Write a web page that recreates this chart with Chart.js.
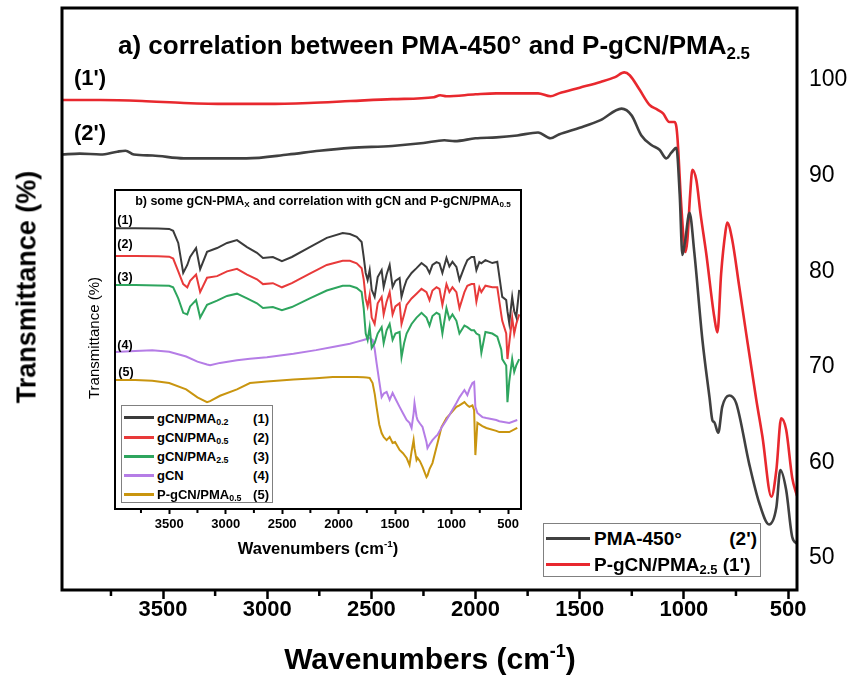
<!DOCTYPE html>
<html>
<head>
<meta charset="utf-8">
<script src="https://cdn.jsdelivr.net/npm/chart.js@4.4.1/dist/chart.umd.min.js"></script>
<style>
  html, body { margin: 0; padding: 0; background: #fff; }
  #wrap { position: relative; width: 852px; height: 680px; overflow: hidden; background: #fff; }
  canvas { position: absolute; left: 0; top: 0; }
  .t { position: absolute; white-space: nowrap; font-family: "Liberation Sans", Arial, sans-serif; font-weight: bold; color: #000; line-height: 1; transform: translate(-50%, -50%); }
  .t sub { font-size: 0.65em; vertical-align: -0.3em; line-height: 0; }
  .t sup { font-size: 0.6em; vertical-align: 0.65em; line-height: 0; }
  .box { position: absolute; background: #fff; border: 1px solid #808080; box-sizing: border-box; font-family: "Liberation Sans", Arial, sans-serif; font-weight: bold; }
  .sw { position: absolute; height: 3px; }
  .lt { position: absolute; white-space: nowrap; line-height: 1; transform: translateY(-50%); }
  .lt sub { font-size: 0.68em; vertical-align: -0.3em; line-height: 0; }
</style>
</head>
<body>
<div id="wrap">
  <canvas id="main" width="852" height="680"></canvas>
  <canvas id="inset" width="852" height="680"></canvas>

  <div class="t" style="left:434px; top:45px; font-size:26px;">a) correlation between PMA-450° and P-gCN/PMA<sub>2.5</sub></div>
  <div class="t" style="left:27px; top:287px; font-size:27px; transform:translate(-50%,-50%) rotate(-90deg);">Transmittance (%)</div>
  <div class="t" style="left:430px; top:659px; font-size:30px;">Wavenumbers (cm<sup>-1</sup>)</div>
  <div class="t" style="left:90px; top:78px; font-size:22px;">(1')</div>
  <div class="t" style="left:90px; top:133px; font-size:22px;">(2')</div>

  <div class="box" style="left:543px; top:523px; width:218px; height:54px; font-size:19px;">
    <div class="sw" style="left:2px; top:13px; width:44px; background:#404040;"></div>
    <div class="lt" style="left:50px; top:14px;">PMA-450°</div>
    <div class="lt" style="right:3px; top:14px;">(2')</div>
    <div class="sw" style="left:2px; top:39px; width:44px; background:#e8282e;"></div>
    <div class="lt" style="left:50px; top:40px;">P-gCN/PMA<sub>2.5</sub> (1')</div>
  </div>

  <div class="t" style="left:323px; top:201px; font-size:12.5px;">b) some gCN-PMA<sub>X</sub> and correlation with gCN and P-gCN/PMA<sub>0.5</sub></div>
  <div class="t" style="left:93px; top:338px; font-size:15px; font-weight:normal; transform:translate(-50%,-50%) rotate(-90deg);">Transmittance (%)</div>
  <div class="t" style="left:318px; top:548px; font-size:16.5px;">Wavenumbers (cm<sup>-1</sup>)</div>
  <div class="t" style="left:125px; top:220px; font-size:12.5px;">(1)</div>
  <div class="t" style="left:125px; top:244px; font-size:12.5px;">(2)</div>
  <div class="t" style="left:125px; top:277px; font-size:12.5px;">(3)</div>
  <div class="t" style="left:125px; top:345px; font-size:12.5px;">(4)</div>
  <div class="t" style="left:126px; top:372px; font-size:12.5px;">(5)</div>

  <div class="box" style="left:121px; top:405px; width:152px; height:98px; font-size:13px;">
    <div class="sw" style="left:2px; top:10px; width:30px; background:#3b3b3b;"></div>
    <div class="lt" style="left:35px; top:11.5px;">gCN/PMA<sub>0.2</sub></div>
    <div class="lt" style="right:3px; top:11.5px;">(1)</div>
    <div class="sw" style="left:2px; top:29.5px; width:30px; background:#e83a3a;"></div>
    <div class="lt" style="left:35px; top:31px;">gCN/PMA<sub>0.5</sub></div>
    <div class="lt" style="right:3px; top:31px;">(2)</div>
    <div class="sw" style="left:2px; top:48.5px; width:30px; background:#2ea55e;"></div>
    <div class="lt" style="left:35px; top:50px;">gCN/PMA<sub>2.5</sub></div>
    <div class="lt" style="right:3px; top:50px;">(3)</div>
    <div class="sw" style="left:2px; top:67.5px; width:30px; background:#b57de6;"></div>
    <div class="lt" style="left:35px; top:69px;">gCN</div>
    <div class="lt" style="right:3px; top:69px;">(4)</div>
    <div class="sw" style="left:2px; top:86.5px; width:30px; background:#c9950f;"></div>
    <div class="lt" style="left:35px; top:88px;">P-gCN/PMA<sub>0.5</sub></div>
    <div class="lt" style="right:3px; top:88px;">(5)</div>
  </div>
</div>

<script>
// ---------- Main chart (a) data ----------
const wnRed = [3985, 3800, 3600, 3400, 3200, 3000, 2800, 2600, 2400, 2200, 2170, 2140, 2000, 1900, 1800, 1700, 1640, 1600, 1500, 1400, 1330, 1286, 1260, 1213, 1165, 1127, 1100, 1070, 1045, 1036, 1030, 1012, 993, 983, 970, 959, 940, 920, 893, 854, 839, 821, 800, 792, 768, 735, 701, 652, 623, 580, 556, 533, 509, 480, 457];
const tRed = [97.9, 97.9, 97.8, 97.6, 97.5, 97.5, 97.6, 97.8, 98.0, 98.2, 98.4, 98.3, 98.5, 98.6, 98.6, 98.6, 98.3, 98.6, 99.2, 99.8, 100.3, 100.8, 100.5, 99.0, 97.4, 96.9, 96.5, 95.6, 95.6, 95.1, 93.7, 86.7, 82.0, 83.3, 88.0, 90.6, 89.5, 86.0, 81.9, 75.2, 73.6, 79.8, 84.2, 85.1, 83.3, 78.5, 73.5, 66.5, 62.7, 56.4, 59.2, 64.6, 63.4, 58.4, 56.5];

const wnBlack = [3985, 3900, 3800, 3720, 3680, 3640, 3550, 3400, 3300, 3100, 2900, 2750, 2600, 2400, 2250, 2150, 2100, 2000, 1900, 1800, 1700, 1640, 1600, 1500, 1400, 1299, 1251, 1204, 1156, 1117, 1084, 1060, 1036, 1020, 1007, 995, 973, 950, 911, 877, 863, 854, 835, 816, 782, 749, 687, 639, 591, 556, 537, 509, 480, 457];
const tBlack = [92.2, 92.3, 92.2, 92.5, 92.6, 92.2, 92.1, 91.8, 91.8, 91.8, 92.2, 92.6, 92.9, 93.1, 93.4, 93.7, 93.6, 93.9, 94.0, 94.2, 94.5, 93.9, 94.3, 95.0, 95.8, 97.0, 96.3, 94.2, 93.2, 92.7, 91.8, 92.4, 92.9, 88.0, 81.7, 83.0, 86.1, 82.0, 72.8, 66.8, 64.4, 64.2, 63.1, 65.8, 67.0, 66.2, 59.9, 55.8, 53.5, 55.3, 59.2, 57.1, 52.2, 51.5];

const xTickLabels = [3500, 3000, 2500, 2000, 1500, 1000, 500];
const xMinorTicks = [3750, 3250, 2750, 2250, 1750, 1250, 750];
const yTickLabels = [50, 60, 70, 80, 90, 100];

// ---------- Inset chart (b) data (relative transmittance, offset traces) ----------
const wnPMA = [3980, 3800, 3600, 3500, 3465, 3420, 3376, 3340, 3315, 3262, 3226, 3165, 3076, 2988, 2900, 2811, 2723, 2670, 2582, 2502, 2414, 2255, 2105, 1964, 1900, 1840, 1796, 1778, 1760, 1743, 1725, 1707, 1681, 1654, 1619, 1601, 1575, 1548, 1522, 1497, 1460, 1443, 1420, 1398, 1354, 1310, 1266, 1222, 1195, 1169, 1133, 1107, 1081, 1045, 1019, 992, 957, 930, 886, 860, 824, 800, 780, 754, 736, 700, 639, 595, 560, 551, 516, 505, 489, 463, 445, 427, 401];
const tPMA02 = [88.0, 88.0, 87.9, 87.8, 87.2, 83.4, 74.0, 76.5, 79.0, 81.8, 75.2, 80.6, 81.8, 83.4, 84.3, 82.1, 80.3, 78.7, 79.0, 77.7, 79.0, 82.1, 85.0, 86.5, 86.2, 85.3, 83.7, 79.0, 74.0, 71.8, 74.9, 68.7, 66.5, 72.7, 74.9, 69.6, 73.5, 76.5, 69.6, 71.5, 72.4, 66.5, 69.5, 71.8, 74.0, 75.5, 77.1, 75.9, 74.0, 76.5, 77.4, 77.0, 74.0, 78.7, 76.0, 77.5, 75.9, 71.8, 75.9, 78.0, 79.0, 79.0, 74.9, 77.4, 77.0, 78.0, 77.1, 77.5, 68.7, 66.5, 65.5, 62.0, 58.3, 66.5, 62.0, 60.2, 68.7];
const tPMA05 = [79.3, 79.3, 79.2, 79.1, 78.5, 74.5, 70.5, 69.5, 71.5, 73.5, 68.0, 72.5, 73.0, 74.5, 75.3, 73.5, 72.0, 70.5, 70.8, 69.5, 70.8, 73.8, 76.5, 77.8, 77.8, 77.0, 75.5, 72.0, 66.0, 63.5, 67.0, 60.0, 58.0, 64.5, 66.5, 61.0, 65.0, 68.0, 61.0, 63.5, 64.5, 58.0, 61.0, 64.0, 66.0, 67.5, 69.0, 68.0, 65.5, 68.5, 69.5, 69.0, 64.0, 70.5, 68.0, 69.5, 68.0, 63.0, 68.0, 70.0, 70.5, 70.5, 65.0, 69.5, 68.0, 70.0, 69.5, 69.5, 61.0, 59.0, 55.0, 47.0, 52.0, 60.0, 55.0, 58.0, 61.0];
const tPMA25 = [70.2, 70.2, 70.1, 70.0, 69.5, 66.0, 61.5, 61.0, 63.5, 65.5, 60.0, 64.0, 65.3, 66.8, 67.5, 66.0, 64.5, 63.0, 63.3, 62.3, 63.3, 66.0, 68.5, 70.0, 70.0, 69.3, 68.0, 63.0, 55.0, 53.0, 57.0, 50.5, 52.0, 55.0, 57.0, 52.0, 56.0, 58.0, 53.0, 55.0, 55.5, 47.6, 52.0, 55.0, 58.0, 60.0, 61.5, 60.0, 57.5, 60.5, 61.5, 61.0, 55.0, 63.0, 59.5, 61.0, 59.0, 55.0, 57.5, 57.0, 56.0, 56.0, 55.0, 54.5, 49.0, 55.5, 55.0, 54.0, 50.0, 47.0, 45.0, 33.5, 40.0, 47.0, 43.0, 45.0, 47.0];

const wnGCN = [3980, 3800, 3650, 3500, 3350, 3250, 3165, 3138, 3050, 2900, 2785, 2635, 2400, 2200, 2052, 1900, 1840, 1780, 1752, 1725, 1699, 1680, 1664, 1640, 1619, 1600, 1575, 1548, 1522, 1500, 1460, 1430, 1398, 1372, 1354, 1336, 1328, 1310, 1301, 1280, 1257, 1222, 1213, 1195, 1169, 1133, 1125, 1089, 1045, 1019, 957, 930, 886, 860, 842, 815, 800, 789, 771, 727, 692, 604, 577, 489, 418];
const tGCN = [49.2, 49.5, 49.8, 49.3, 47.8, 46.2, 45.3, 45.1, 45.8, 46.6, 47.1, 47.6, 48.7, 49.8, 50.8, 51.8, 52.4, 53.0, 53.3, 53.6, 53.0, 50.0, 45.8, 40.0, 35.1, 36.2, 36.7, 34.2, 36.4, 34.8, 32.0, 30.0, 27.9, 27.0, 25.4, 30.0, 33.2, 29.0, 27.9, 26.8, 25.7, 21.0, 19.1, 20.2, 21.6, 23.0, 23.2, 25.5, 27.9, 29.5, 33.2, 35.0, 37.3, 35.7, 37.5, 39.5, 39.8, 32.0, 30.1, 28.8, 28.5, 27.9, 27.5, 27.0, 27.9];
const tPGCN = [40.4, 40.4, 40.2, 39.5, 37.5, 35.0, 33.5, 33.8, 35.5, 37.5, 39.5, 40.0, 40.6, 41.0, 41.4, 41.4, 41.4, 41.3, 41.2, 41.1, 39.5, 36.0, 32.0, 26.5, 23.8, 22.5, 21.6, 22.6, 20.7, 21.0, 18.5, 17.5, 16.0, 13.8, 18.0, 21.6, 19.0, 15.4, 16.0, 15.0, 13.2, 10.0, 10.5, 12.5, 14.4, 19.4, 20.5, 25.7, 28.5, 29.5, 32.0, 32.5, 33.5, 32.5, 32.0, 32.5, 31.0, 16.9, 27.0, 26.0, 25.4, 24.5, 24.1, 24.1, 25.4];

const pts = (xs, ys) => xs.map((x, i) => ({ x: x, y: ys[i] }));
const noPad = s => { s.paddingTop = 0; s.paddingBottom = 0; s.paddingLeft = 0; s.paddingRight = 0; };

const framePlugin = {
  id: 'frame',
  afterDraw(chart, args, opts) {
    const { ctx, chartArea: a } = chart;
    const x = chart.scales.x;
    ctx.save();
    ctx.strokeStyle = '#000';
    ctx.lineWidth = opts.tickWidth;
    ctx.beginPath();
    opts.minor.forEach(v => {
      const px = x.getPixelForValue(v);
      ctx.moveTo(px, a.bottom);
      ctx.lineTo(px, a.bottom + opts.minorLen);
    });
    ctx.stroke();
    ctx.lineWidth = opts.lineWidth;
    ctx.strokeRect(a.left, a.top, a.right - a.left, a.bottom - a.top);
    ctx.restore();
  }
};
Chart.register(framePlugin);

const FONT = '"Liberation Sans", Arial, sans-serif';

new Chart(document.getElementById('main'), {
  type: 'line',
  data: {
    datasets: [
      { label: 'PMA-450°', data: pts(wnBlack, tBlack), borderColor: '#404040', borderWidth: 2.6, pointRadius: 0, cubicInterpolationMode: 'monotone', fill: false },
      { label: 'P-gCN/PMA2.5', data: pts(wnRed, tRed), borderColor: '#e8282e', borderWidth: 2.6, pointRadius: 0, cubicInterpolationMode: 'monotone', fill: false }
    ]
  },
  options: {
    responsive: false, animation: false, events: [],
    layout: { padding: { left: 62, top: 8, right: 0, bottom: 0 } },
    plugins: { legend: { display: false }, tooltip: { enabled: false }, title: { display: false },
      frame: { lineWidth: 3, tickWidth: 2.5, minor: xMinorTicks, minorLen: 6 } },
    scales: {
      x: {
        type: 'linear', reverse: true, min: 457, max: 3985,
        afterBuildTicks: s => { s.ticks = xTickLabels.map(v => ({ value: v })); },
        afterFit: s => { s.height = 90; noPad(s); },
        grid: { display: true, drawOnChartArea: false, drawTicks: true, tickLength: 9, tickWidth: 2.5, tickColor: '#000' },
        border: { display: false },
        ticks: { autoSkip: false, maxRotation: 0, padding: -2, color: '#000', callback: v => String(v), font: { family: FONT, size: 22, weight: 'bold' } }
      },
      y: {
        position: 'right', min: 46.65, max: 107.53,
        afterBuildTicks: s => { s.ticks = yTickLabels.map(v => ({ value: v })); },
        afterFit: s => { s.width = 55; noPad(s); },
        grid: { display: false, drawTicks: false },
        border: { display: false },
        ticks: { padding: 12, color: '#000', callback: v => String(v), font: { family: FONT, size: 23, weight: 'normal' } }
      }
    }
  }
});

const insetColors = ['#3b3b3b', '#e83a3a', '#2ea55e', '#b57de6', '#c9950f'];
const mk = (label, xs, ys, c) => ({ label: label, data: pts(xs, ys), borderColor: c, borderWidth: 2, pointRadius: 0, tension: 0, fill: false });

new Chart(document.getElementById('inset'), {
  type: 'line',
  data: {
    datasets: [
      mk('gCN/PMA0.2', wnPMA, tPMA02, insetColors[0]),
      mk('gCN/PMA0.5', wnPMA, tPMA05, insetColors[1]),
      mk('gCN/PMA2.5', wnPMA, tPMA25, insetColors[2]),
      mk('gCN', wnGCN, tGCN, insetColors[3]),
      mk('P-gCN/PMA0.5', wnGCN, tPGCN, insetColors[4])
    ]
  },
  options: {
    responsive: false, animation: false, events: [],
    layout: { padding: { left: 115, top: 190, right: 331, bottom: 0 } },
    plugins: { legend: { display: false }, tooltip: { enabled: false }, title: { display: false },
      frame: { lineWidth: 2, tickWidth: 2, minor: xMinorTicks, minorLen: 4 } },
    scales: {
      x: {
        type: 'linear', reverse: true, min: 385, max: 3980,
        afterBuildTicks: s => { s.ticks = xTickLabels.map(v => ({ value: v })); },
        afterFit: s => { s.height = 171; noPad(s); },
        grid: { display: true, drawOnChartArea: false, drawTicks: true, tickLength: 5, tickWidth: 2, tickColor: '#000' },
        border: { display: false },
        ticks: { autoSkip: false, maxRotation: 0, padding: 3, color: '#000', callback: v => String(v), font: { family: FONT, size: 13, weight: 'bold' } }
      },
      y: { display: false, min: 0, max: 100, afterFit: noPad }
    }
  }
});
</script>
</body>
</html>
